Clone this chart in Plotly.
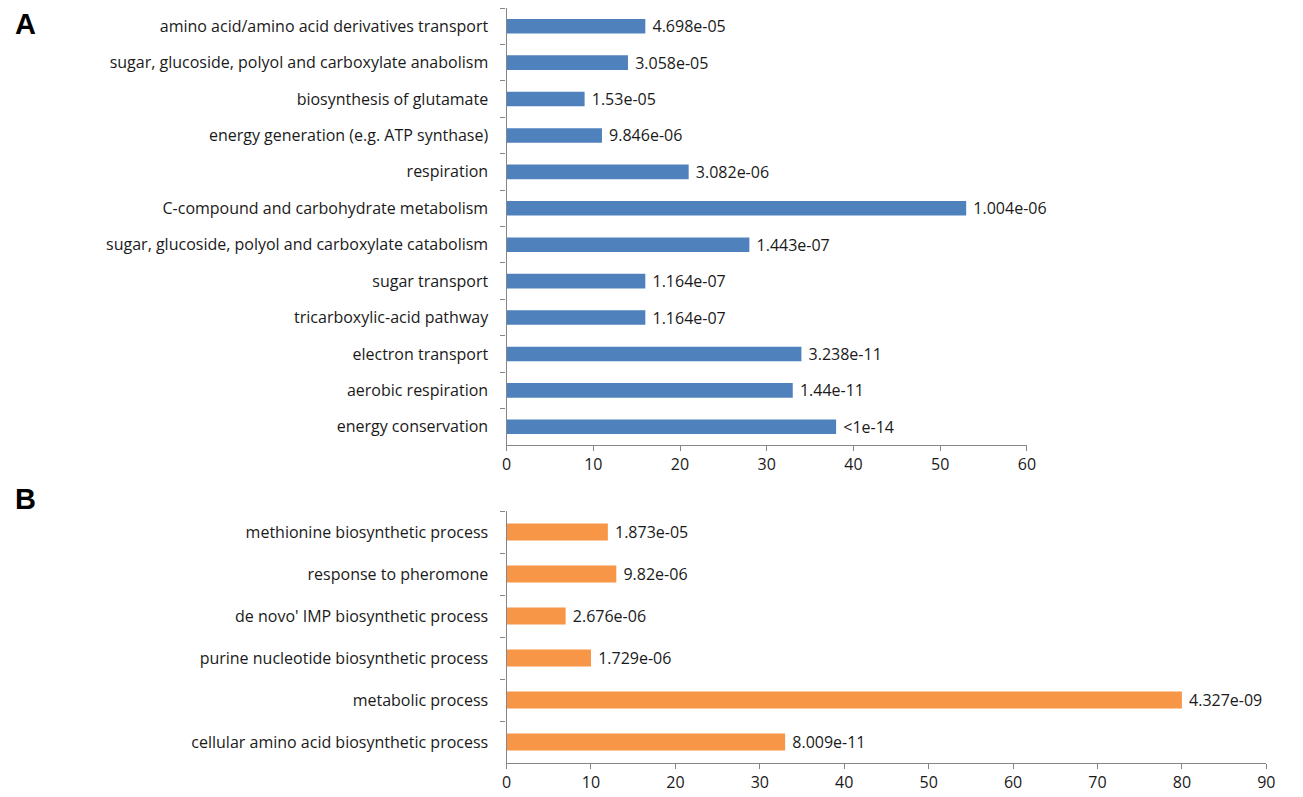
import plotly.graph_objects as go

W, H = 1303, 797

cats_a = [
    "amino acid/amino acid derivatives transport",
    "sugar, glucoside, polyol and carboxylate anabolism",
    "biosynthesis of glutamate",
    "energy generation (e.g. ATP synthase)",
    "respiration",
    "C-compound and carbohydrate metabolism",
    "sugar, glucoside, polyol and carboxylate catabolism",
    "sugar transport",
    "tricarboxylic-acid pathway",
    "electron transport",
    "aerobic respiration",
    "energy conservation",
]
vals_a = [16, 14, 9, 11, 21, 53, 28, 16, 16, 34, 33, 38]
pvals_a = ["4.698e-05", "3.058e-05", "1.53e-05", "9.846e-06", "3.082e-06", "1.004e-06",
           "1.443e-07", "1.164e-07", "1.164e-07", "3.238e-11", "1.44e-11", "<1e-14"]

cats_b = [
    "methionine biosynthetic process",
    "response to pheromone",
    "de novo' IMP biosynthetic process",
    "purine nucleotide biosynthetic process",
    "metabolic process",
    "cellular amino acid biosynthetic process",
]
vals_b = [12, 13, 7, 10, 80, 33]
pvals_b = ["1.873e-05", "9.82e-06", "2.676e-06", "1.729e-06", "4.327e-09", "8.009e-11"]

FONT = "Open Sans"
FS = 16
AXC = "#868686"

fig = go.Figure()
fig.add_trace(go.Bar(
    y=cats_a, x=vals_a, orientation="h", width=0.4,
    marker=dict(color="#4F81BD", line=dict(width=0)),
    text=[" " + t for t in pvals_a], textposition="outside", cliponaxis=False,
    constraintext="none", textfont=dict(family=FONT, size=FS, color="#1a1a1a"),
    xaxis="x", yaxis="y", showlegend=False, hoverinfo="x+y",
))
fig.add_trace(go.Bar(
    y=cats_b, x=vals_b, orientation="h", width=0.4,
    marker=dict(color="#F79646", line=dict(width=0)),
    text=[" " + t for t in pvals_b], textposition="outside", cliponaxis=False,
    constraintext="none", textfont=dict(family=FONT, size=FS, color="#1a1a1a"),
    xaxis="x2", yaxis="y2", showlegend=False, hoverinfo="x+y",
))

def xax(domain, rng, anchor):
    return dict(domain=domain, range=rng, dtick=10, tick0=0, anchor=anchor,
                showline=True, linecolor=AXC, linewidth=1.3, ticks="outside",
                tickcolor=AXC, ticklen=5, tickwidth=1.3, showgrid=False, zeroline=False,
                tickfont=dict(family=FONT, size=FS, color="#1a1a1a"), fixedrange=True)

def yax(domain, n, anchor):
    return dict(domain=domain, range=[n - 0.5, -0.5], anchor=anchor, type="category",
                showline=True, linecolor=AXC, linewidth=1.3, ticks="outside",
                tickson="boundaries", tickcolor=AXC, ticklen=5, tickwidth=1.3,
                showgrid=False, zeroline=False, ticklabelstandoff=14,
                tickfont=dict(family=FONT, size=FS, color="#1a1a1a"), fixedrange=True)

fig.update_layout(
    width=W, height=H, margin=dict(l=0, r=0, t=0, b=0),
    paper_bgcolor="white", plot_bgcolor="white",
    bargap=0.6,
    xaxis=xax([507 / W, 1033 / W], [0, 60], "y"),
    yaxis=yax([(H - 445) / H, (H - 8) / H], len(cats_a), "x"),
    xaxis2=xax([507 / W, 1275 / W], [0, 90], "y2"),
    yaxis2=yax([(H - 763) / H, (H - 511) / H], len(cats_b), "x2"),
    annotations=[
        dict(text="<b>A</b>", x=8 / W, y=(H - 6) / H, xref="paper", yref="paper",
             xanchor="left", yanchor="top", showarrow=False,
             font=dict(family="Liberation Sans", size=29, color="black")),
        dict(text="<b>B</b>", x=8 / W, y=(H - 481) / H, xref="paper", yref="paper",
             xanchor="left", yanchor="top", showarrow=False,
             font=dict(family="Liberation Sans", size=29, color="black")),
    ],
)

fig.write_html("out.html")
